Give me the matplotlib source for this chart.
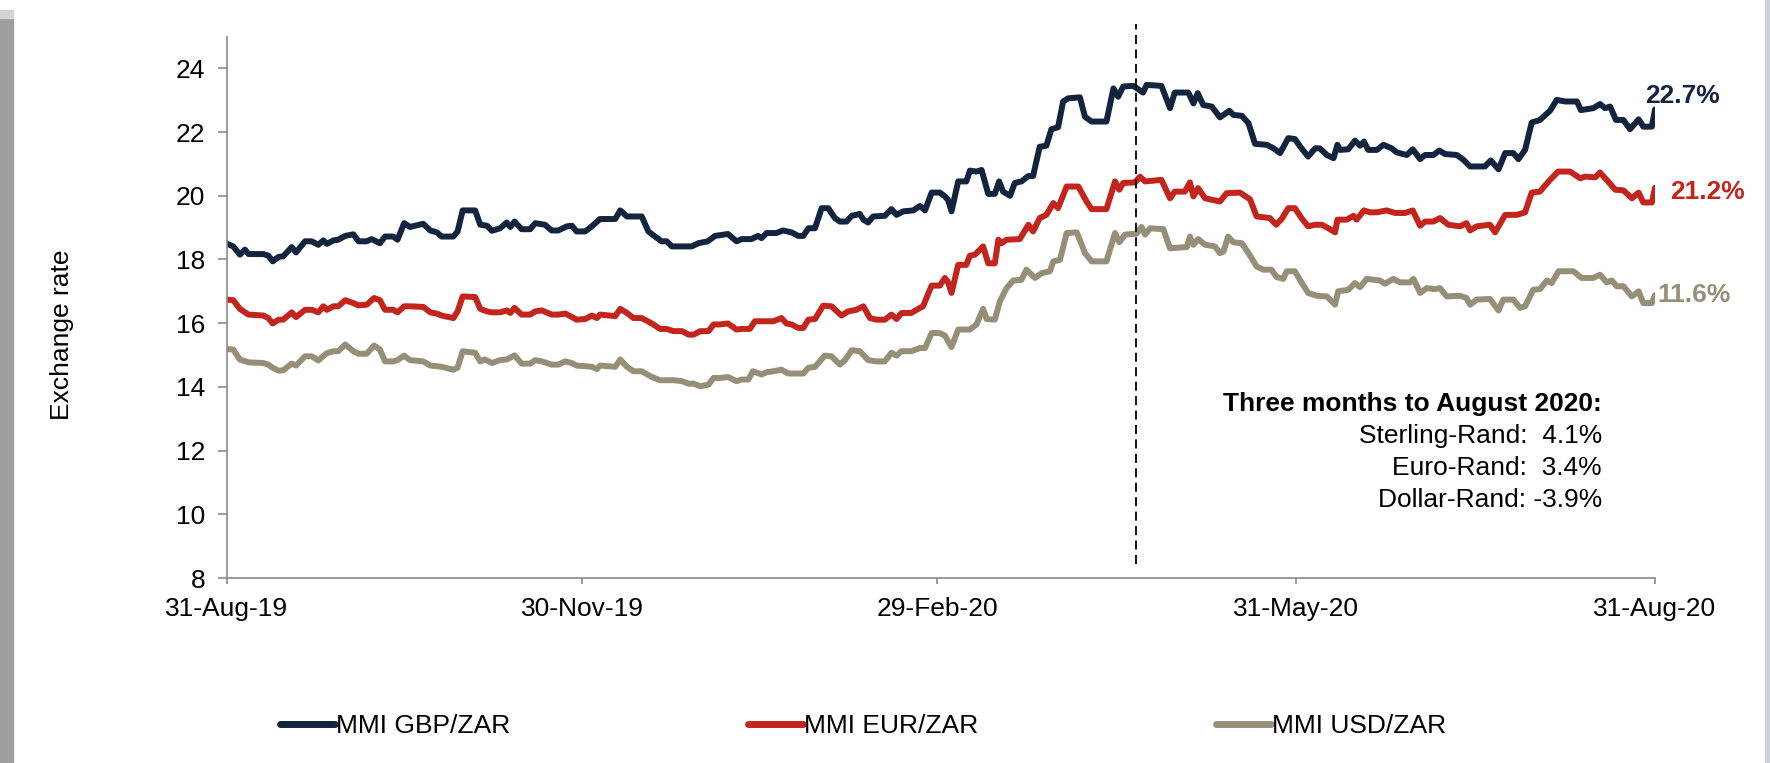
import matplotlib
matplotlib.use("Agg")
import matplotlib.pyplot as plt
import matplotlib.dates as mdates
from matplotlib.patches import Rectangle
import pandas as pd

plt.rcParams['font.family'] = ['Liberation Sans', 'DejaVu Sans']

start_date = "2019-08-31"

# day offsets from 31-Aug-2019 and exchange-rate readings
gbp_days = [0.0,1.6,3.3,4.6,5.5,9.3,10.6,11.7,13.2,14.4,16.6,17.7,20.0,21.7,23.4,24.7,25.6,27.3,28.5,30.3,32.4,33.7,35.8,37.1,39.2,40.5,42.6,43.7,45.4,46.9,50.3,52.1,53.8,55.0,58.0,59.1,60.4,
            63.6,64.9,66.6,67.9,70.0,71.7,72.6,73.7,75.5,77.7,79.0,81.5,83.2,84.9,87.1,88.4,89.6,91.8,93.5,95.6,99.5,100.8,102.5,106.3,108.0,109.7,111.4,112.7,114.0,119.1,120.8,123.2,125.1,
            128.4,130.6,131.9,134.4,136.1,137.0,138.3,140.8,142.5,144.7,146.4,147.7,149.0,150.7,152.4,154.1,155.8,157.1,158.8,160.1,162.2,163.1,164.3,165.6,168.6,170.3,171.6,173.3,175.9,177.6,178.9,180.6,182.7,184.0,184.8,185.7,187.4,189.5,
            190.4,192.1,193.4,195.1,196.8,197.9,198.9,200.7,201.9,203.6,205.4,206.6,208.3,210.0,211.3,213.0,214.3,215.6,218.6,219.9,221.6,225.4,227.2,228.4,229.7,232.3,234.8,235.7,239.5,241.7,242.9,246.4,247.7,248.8,250.2,252.4,
            254.5,255.4,256.9,257.9,260.1,261.8,263.5,266.5,268.2,269.9,272.0,273.7,275.4,277.1,278.9,280.1,281.9,283.6,284.6,285.3,287.4,289.1,290.4,291.4,292.5,294.7,296.4,298.5,299.8,302.4,303.9,305.8,307.1,309.2,310.7,312.2,315.2,316.9,
            318.6,322.4,323.9,325.9,327.6,329.7,331.0,332.7,334.4,336.5,339.1,340.8,343.0,346.0,347.0,350.2,351.9,353.2,354.5,356.0,357.9,359.6,361.8,363.0,365.2,366.0]
gbp_vals = [18.49,18.41,18.15,18.31,18.17,18.17,18.12,17.94,18.08,18.10,18.39,18.22,18.57,18.57,18.46,18.60,18.49,18.60,18.62,18.74,18.79,18.57,18.57,18.64,18.51,18.72,18.72,18.62,19.14,19.02,19.12,18.91,18.85,18.72,18.72,18.88,19.54,
            19.54,19.09,19.06,18.90,18.98,19.16,19.02,19.19,18.95,18.95,19.14,19.09,18.91,18.91,19.04,19.06,18.88,18.88,19.04,19.27,19.27,19.54,19.35,19.35,18.88,18.72,18.57,18.57,18.41,18.41,18.51,18.57,18.74,
            18.80,18.57,18.64,18.64,18.74,18.67,18.83,18.83,18.91,18.85,18.74,18.74,18.98,18.98,19.61,19.61,19.30,19.19,19.19,19.37,19.43,19.25,19.16,19.35,19.37,19.58,19.40,19.51,19.54,19.68,19.54,20.10,20.10,19.98,19.87,19.51,20.45,20.45,
            20.79,20.76,20.81,20.06,20.06,20.45,20.13,20.00,20.40,20.45,20.62,20.62,21.54,21.57,22.09,22.15,22.96,23.06,23.09,22.48,22.33,22.33,23.37,23.11,23.43,23.45,23.24,23.48,23.45,22.75,23.24,23.24,22.90,23.22,22.85,22.80,
            22.46,22.54,22.67,22.54,22.51,22.28,21.63,21.60,21.49,21.34,21.81,21.78,21.49,21.23,21.49,21.49,21.28,21.18,21.60,21.44,21.46,21.73,21.57,21.70,21.44,21.44,21.60,21.49,21.36,21.28,21.46,21.15,21.28,21.28,21.42,21.31,21.28,21.13,
            20.92,20.92,21.11,20.83,21.34,21.34,21.15,21.44,22.30,22.38,22.67,23.01,22.96,22.96,22.69,22.75,22.88,22.75,22.80,22.38,22.38,22.09,22.40,22.17,22.17,22.71]

eur_days = [0.0,1.6,3.3,5.5,9.3,10.6,11.7,13.2,14.4,16.6,17.7,20.0,21.7,23.4,24.7,25.6,27.3,28.5,30.3,32.4,33.7,35.8,37.7,39.2,40.5,42.6,43.7,45.4,46.9,50.3,52.1,53.8,55.0,58.0,59.1,60.4,
            63.6,64.9,66.6,67.9,70.0,71.7,72.6,73.7,75.5,77.7,79.0,80.7,83.2,84.9,86.7,88.0,89.6,91.8,93.5,94.8,95.6,99.5,100.8,102.5,104.2,106.3,108.9,111.0,112.7,114.4,116.6,118.3,119.6,121.3,123.4,124.7,
            126.3,128.4,130.6,131.9,134.0,135.3,137.0,140.0,142.1,143.4,144.7,146.4,147.7,149.0,150.7,152.8,154.9,157.5,159.2,161.3,163.1,164.8,166.5,168.6,170.3,171.6,172.9,175.4,177.6,178.4,180.6,182.7,184.0,184.8,185.7,187.4,189.5,
            190.4,191.7,193.8,195.1,196.8,197.7,198.5,199.8,203.2,205.4,206.6,208.3,210.0,211.8,213.0,215.2,218.2,220.3,221.6,225.4,227.6,228.7,229.7,232.7,234.0,235.3,239.5,241.7,242.9,245.5,246.8,247.7,248.9,250.7,254.5,
            256.2,259.6,262.2,263.9,267.3,268.9,270.3,272.0,273.7,275.4,277.1,278.9,280.6,282.3,284.0,284.6,287.0,288.7,289.5,291.4,293.0,294.7,297.2,299.4,301.9,303.9,305.8,307.1,309.2,310.9,313.0,316.0,317.7,
            318.6,320.3,323.7,325.0,327.6,330.6,332.7,334.4,336.5,339.1,341.2,344.2,346.8,348.1,350.7,351.9,353.6,355.8,357.9,360.1,361.8,363.0,365.2,366.0]
eur_vals = [16.74,16.72,16.45,16.27,16.24,16.16,15.99,16.11,16.11,16.34,16.19,16.42,16.42,16.34,16.53,16.42,16.53,16.53,16.72,16.63,16.56,16.58,16.79,16.72,16.42,16.42,16.34,16.53,16.53,16.51,16.34,16.30,16.24,16.16,16.37,16.84,
            16.82,16.45,16.37,16.34,16.34,16.40,16.32,16.48,16.27,16.27,16.37,16.40,16.27,16.27,16.30,16.22,16.11,16.13,16.24,16.16,16.27,16.22,16.45,16.32,16.16,16.16,15.99,15.82,15.82,15.75,15.75,15.64,15.64,15.75,15.75,15.96,
            15.96,15.99,15.80,15.82,15.82,16.06,16.06,16.06,16.16,15.99,15.96,15.85,15.85,16.11,16.13,16.55,16.53,16.24,16.37,16.42,16.53,16.16,16.11,16.11,16.27,16.13,16.32,16.32,16.48,16.53,17.18,17.18,17.42,17.29,16.95,17.83,17.83,
            18.12,18.15,18.41,17.88,17.88,18.62,18.51,18.62,18.64,19.09,18.88,19.30,19.40,19.77,19.61,20.29,20.29,19.82,19.58,19.58,20.45,20.19,20.40,20.42,20.60,20.45,20.50,19.92,20.13,20.13,20.42,19.98,20.24,19.92,19.82,
            20.08,20.10,19.89,19.35,19.30,19.09,19.27,19.61,19.61,19.30,19.04,19.09,19.09,18.98,18.85,19.25,19.25,19.37,19.25,19.54,19.48,19.48,19.54,19.46,19.46,19.54,19.06,19.19,19.19,19.30,19.09,19.04,19.14,
            18.91,19.04,19.09,18.85,19.40,19.40,19.48,20.10,20.13,20.50,20.76,20.76,20.55,20.60,20.58,20.73,20.50,20.19,20.17,19.92,20.10,19.79,19.79,20.25]

usd_days = [0.0,1.6,3.3,5.5,9.3,10.6,11.7,13.2,14.4,16.6,17.7,20.0,21.7,23.4,24.7,25.6,27.3,28.5,30.3,32.4,33.7,35.8,37.7,39.2,40.5,42.6,43.7,45.4,46.9,50.3,52.1,53.8,55.0,58.0,59.1,60.4,
            63.6,64.9,66.1,67.9,70.0,71.7,73.7,75.5,77.7,79.0,80.7,83.2,84.9,86.7,88.4,89.6,91.8,93.5,94.8,95.6,99.5,100.8,102.5,104.2,106.3,108.9,111.0,114.4,116.6,118.3,119.6,121.3,123.4,124.7,
            126.3,128.4,130.6,131.9,133.6,134.8,137.0,138.3,140.0,142.1,143.8,147.7,149.0,150.7,153.2,154.9,157.1,158.4,160.1,162.2,164.3,166.5,168.6,170.3,171.6,172.9,175.4,177.6,178.9,180.6,182.7,184.0,185.7,187.4,189.5,
            190.4,192.1,193.8,194.7,196.8,198.1,199.8,201.5,203.6,204.9,207.1,208.8,210.9,211.8,213.5,215.2,217.8,219.9,221.6,225.4,227.6,228.7,230.1,233.1,234.4,235.3,236.6,240.0,241.7,246.0,246.8,247.7,248.9,250.7,253.2,
            254.5,255.4,256.6,257.9,260.1,261.8,263.9,265.6,267.7,269.0,270.7,271.6,273.7,275.4,277.1,279.3,281.9,284.0,284.8,287.4,289.1,290.4,292.1,295.5,296.8,298.9,300.7,303.2,304.1,305.8,307.5,309.6,310.9,312.6,316.0,317.7,
            318.6,320.3,323.7,325.9,327.1,329.7,331.4,332.7,334.8,336.5,338.3,339.5,341.3,345.1,347.2,350.2,351.9,353.6,354.9,356.2,357.9,360.1,361.8,363.0,365.2,366.0]
usd_vals = [15.19,15.17,14.86,14.77,14.75,14.70,14.60,14.51,14.52,14.73,14.67,14.96,14.96,14.83,14.97,15.06,15.12,15.12,15.33,15.12,15.04,15.04,15.30,15.17,14.80,14.80,14.84,14.98,14.84,14.80,14.67,14.65,14.63,14.54,14.60,15.12,
            15.07,14.80,14.86,14.75,14.84,14.86,14.99,14.73,14.73,14.84,14.80,14.70,14.70,14.80,14.75,14.67,14.65,14.63,14.56,14.67,14.63,14.86,14.63,14.49,14.49,14.31,14.21,14.21,14.18,14.10,14.10,14.02,14.07,14.28,
            14.28,14.31,14.18,14.23,14.23,14.49,14.39,14.46,14.49,14.54,14.42,14.42,14.60,14.63,14.98,14.96,14.70,14.84,15.15,15.12,14.84,14.80,14.80,15.07,14.98,15.12,15.12,15.22,15.22,15.69,15.69,15.61,15.25,15.80,15.80,
            15.80,15.96,16.45,16.13,16.11,16.69,17.10,17.34,17.36,17.68,17.42,17.57,17.63,17.94,17.99,18.83,18.85,18.20,17.94,17.94,18.83,18.54,18.78,18.81,19.02,18.78,18.98,18.95,18.35,18.39,18.72,18.46,18.64,18.46,18.41,
            18.20,18.25,18.72,18.54,18.51,18.20,17.78,17.68,17.68,17.45,17.39,17.63,17.63,17.28,16.95,16.86,16.84,16.58,17.00,17.05,17.26,17.13,17.39,17.34,17.24,17.39,17.28,17.28,17.39,16.95,17.10,17.07,17.10,16.84,16.86,16.79,
            16.58,16.74,16.76,16.40,16.74,16.74,16.48,16.53,17.05,17.07,17.34,17.26,17.63,17.63,17.42,17.42,17.52,17.28,17.34,17.16,17.16,16.84,17.00,16.63,16.63,16.88]

series_names = ["MMI GBP/ZAR", "MMI EUR/ZAR", "MMI USD/ZAR"]
series_colors = ["#13243f", "#c3241c", "#968f78"]
end_labels = ["22.7%", "21.2%", "11.6%"]
end_label_pos = [(363.4, 23.14), (369.8, 20.12), (366.5, 16.88)]

x_ticks = ["2019-08-31", "2019-11-30", "2020-02-29", "2020-05-31", "2020-08-31"]
y_ticks = [8, 10, 12, 14, 16, 18, 20, 22, 24]
marker_date = "2020-04-20"

box_title = "Three months to August 2020:"
box_lines = ["Sterling-Rand:  4.1%", "Euro-Rand:  3.4%", "Dollar-Rand: -3.9%"]

t0 = pd.Timestamp(start_date)
def to_dates(days):
    return t0 + pd.to_timedelta(days, unit="D")

W, H = 1770, 763
fig = plt.figure(figsize=(W / 100, H / 100), dpi=100)

# page decorations
fig.patches.append(Rectangle((0, 0), 13 / W, 1 - 18 / H, transform=fig.transFigure,
                             color="#9e9e9e", zorder=0))
fig.patches.append(Rectangle((0, 1 - 18 / H), 13 / W, 8 / H, transform=fig.transFigure,
                             color="#d4d4d4", zorder=0))
fig.patches.append(Rectangle((1765 / W, 0), 5 / W, 1, transform=fig.transFigure,
                             color="#c9d3da", zorder=0))

ax = fig.add_axes([227 / W, 1 - 578 / H, (1655 - 227) / W, (578 - 36.5) / H])

for days, vals, name, col in zip([gbp_days, eur_days, usd_days],
                                 [gbp_vals, eur_vals, usd_vals],
                                 series_names, series_colors):
    ax.plot(to_dates(days), vals, color=col, lw=4.3, label=name,
            solid_joinstyle="round", solid_capstyle="round")

md = pd.Timestamp(marker_date)
ax.vlines(md, 8.45, 25.4, colors="black", lw=1.3, linestyles=(0, (5, 3)), clip_on=False, zorder=5)

for lab, (d, v), col in zip(end_labels, end_label_pos, series_colors):
    ax.text(to_dates([d])[0], v, lab, color=col, fontsize=19, fontweight="bold",
            ha="left", va="center", clip_on=False)

ax.set_xlim(pd.Timestamp(x_ticks[0]), pd.Timestamp(x_ticks[-1]))
ax.set_ylim(8, 25)
ax.set_xticks([pd.Timestamp(t) for t in x_ticks])
ax.xaxis.set_major_formatter(mdates.DateFormatter("%d-%b-%y"))
ax.set_yticks(y_ticks)

for s in ["top", "right"]:
    ax.spines[s].set_visible(False)
for s in ["left", "bottom"]:
    ax.spines[s].set_color("#8a8a8a")
    ax.spines[s].set_linewidth(1.2)
ax.tick_params(axis="y", length=6.5, width=1.2, color="#8a8a8a", labelsize=19, pad=9)
ax.tick_params(axis="x", length=4.5, width=1.2, color="#8a8a8a", labelsize=19, pad=9)

fig.text(62 / W, 1 - 335 / H, "Exchange rate", rotation=90, fontsize=19,
         ha="center", va="center")

fig.text(1602 / W, 1 - 404 / H, box_title, fontsize=19, fontweight="bold", ha="right", va="center")
for i, line in enumerate(box_lines):
    fig.text(1602 / W, 1 - (436 + 32 * i) / H, line, fontsize=19, ha="right", va="center")

leg = fig.legend(loc="center left", bbox_to_anchor=(280 / W, 1 - 726 / H), ncol=3,
                 frameon=False, fontsize=19, handlelength=2.08, handletextpad=0.05,
                 columnspacing=9.0, borderpad=0, borderaxespad=0)
for h in leg.get_lines():
    h.set_linewidth(5.0)
    h.set_solid_capstyle("round")

fig.savefig("out.png", dpi=100)
